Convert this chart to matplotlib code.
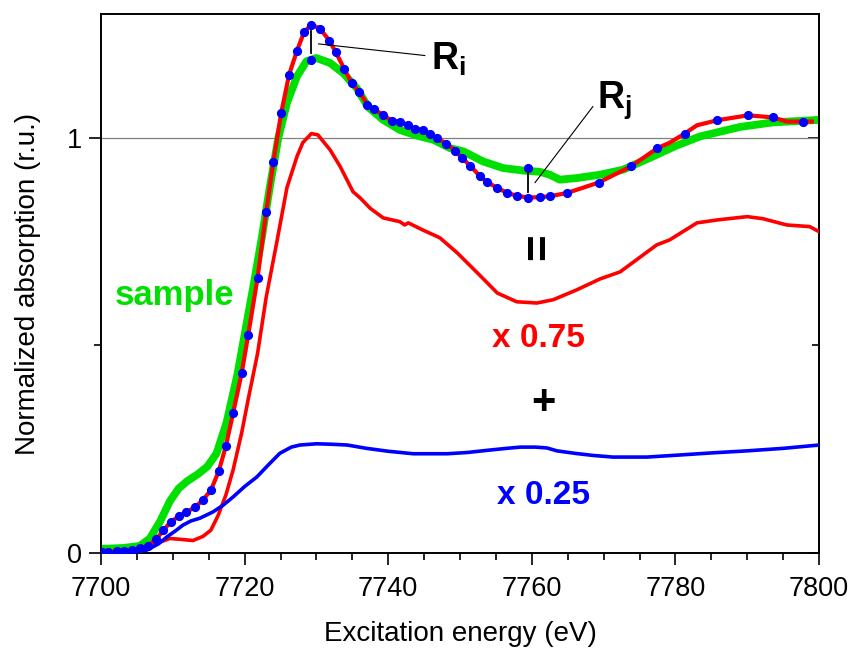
import matplotlib
matplotlib.use("Agg")
import matplotlib.pyplot as plt
from matplotlib.ticker import FixedLocator, MultipleLocator

plt.rcParams['font.family'] = ['Liberation Sans', 'DejaVu Sans']
plt.rcParams['mathtext.fontset'] = 'custom'
plt.rcParams['mathtext.rm'] = 'Liberation Sans'
plt.rcParams['mathtext.bf'] = 'Liberation Sans:bold'

# ---------------- data ----------------
# sample spectrum (green)
sample_e = [7700, 7703, 7705.4, 7706.8, 7708.2, 7709.6, 7710.8, 7712.0, 7713.5, 7714.8,
            7716.1, 7717.5, 7719.0, 7720.2, 7721.2, 7722.4, 7723.5, 7724.7, 7725.9, 7727.3,
            7728.6, 7730.0, 7731.9, 7733.7, 7735.6, 7737.2, 7739.3, 7741.6, 7744.0, 7746.3,
            7748.6, 7750.5, 7753.2, 7756.0, 7758.8, 7761.1, 7762.5, 7763.9, 7766.3, 7769.5,
            7772.7, 7776.5, 7780.0, 7783.4, 7789.0, 7793.6, 7800]
sample_y = [0.010, 0.012, 0.017, 0.035, 0.075, 0.125, 0.155, 0.173, 0.190, 0.208,
            0.240, 0.315, 0.430, 0.545, 0.640, 0.760, 0.880, 1.000, 1.084, 1.148,
            1.184, 1.192, 1.180, 1.156, 1.120, 1.074, 1.043, 1.019, 1.005, 0.995,
            0.975, 0.967, 0.943, 0.927, 0.921, 0.918, 0.911, 0.899, 0.903, 0.911,
            0.923, 0.952, 0.980, 1.003, 1.026, 1.037, 1.043]

# reference component 1, scaled x 0.75 (red)
ref1_e = [7700, 7704, 7706.8, 7708.5, 7709.6, 7711.0, 7712.8, 7714.2, 7715.3, 7716.3,
          7717.4, 7718.4, 7719.6, 7720.5, 7721.8, 7723.0, 7724.5, 7725.9, 7727.3, 7728.1,
          7729.3, 7730.2, 7731.9, 7733.3, 7735.1, 7736.1, 7737.5, 7739.3, 7741.6, 7742.3,
          7742.8, 7744.8, 7747.2, 7749.6, 7752.4, 7755.2, 7757.9, 7760.7, 7763.0, 7766.3,
          7769.5, 7772.3, 7777.4, 7779.2, 7783.0, 7785.8, 7790.0, 7792.2, 7795.5, 7798.7, 7800]
ref1_y = [0.000, 0.003, 0.015, 0.028, 0.035, 0.033, 0.030, 0.040, 0.055, 0.090,
          0.140, 0.200, 0.290, 0.370, 0.480, 0.615, 0.750, 0.880, 0.955, 0.988,
          1.010, 1.007, 0.971, 0.931, 0.870, 0.855, 0.830, 0.807, 0.798, 0.790,
          0.795, 0.778, 0.759, 0.723, 0.675, 0.626, 0.605, 0.602, 0.610, 0.634,
          0.660, 0.677, 0.742, 0.754, 0.795, 0.802, 0.810, 0.805, 0.790, 0.786, 0.774]

# reference component 2, scaled x 0.25 (blue)
ref2_e = [7700, 7704, 7706.4, 7708.0, 7709.2, 7710.5, 7711.4, 7712.5, 7713.8, 7715.6,
          7717.0, 7718.4, 7720.0, 7721.7, 7723.3, 7724.9, 7726.5, 7727.7, 7730.0, 7732.0,
          7734.3, 7737.0, 7740.0, 7743.5, 7748.2, 7751.0, 7754.2, 7756.5, 7758.4, 7760.5,
          7762.1, 7763.5, 7766.0, 7768.5, 7771.3, 7776.0, 7780.6, 7785.0, 7790.0, 7795.0, 7800]
ref2_y = [0.000, 0.002, 0.007, 0.022, 0.039, 0.055, 0.067, 0.077, 0.084, 0.099,
          0.115, 0.135, 0.160, 0.183, 0.212, 0.240, 0.255, 0.260, 0.263, 0.262,
          0.260, 0.252, 0.245, 0.239, 0.239, 0.242, 0.248, 0.252, 0.255, 0.255,
          0.253, 0.246, 0.240, 0.235, 0.231, 0.231, 0.236, 0.241, 0.246, 0.252, 0.260]

# fit (sum) line (red) and its points (blue dots)
fit_e = [7700.0, 7700.1, 7701.0, 7702.2, 7703.2, 7704.3, 7705.5, 7706.5, 7707.7, 7708.7,
         7709.7, 7710.9, 7711.8, 7713.1, 7714.2, 7715.3, 7716.4, 7717.4, 7718.4, 7719.6,
         7720.5, 7721.8, 7723.0, 7724.0, 7725.1, 7726.2, 7727.3, 7728.3, 7729.3, 7730.5,
         7731.8, 7732.7, 7733.9, 7734.9, 7736.0, 7737.1, 7738.0, 7739.3, 7740.5, 7741.6,
         7742.7, 7743.7, 7744.8, 7745.8, 7746.8, 7748.1, 7749.3, 7750.3, 7751.4, 7752.8,
         7753.8, 7755.1, 7756.6, 7758.0, 7759.5, 7761.1, 7762.5, 7764.9, 7769.3, 7773.8,
         7777.5, 7779.2, 7781.3, 7783.0, 7785.8, 7790.1, 7793.6, 7795.5, 7797.8, 7799.0]
fit_y = [0.000, 0.003, 0.003, 0.004, 0.005, 0.007, 0.011, 0.016, 0.033, 0.055,
         0.075, 0.089, 0.098, 0.110, 0.128, 0.151, 0.197, 0.258, 0.337, 0.434,
         0.525, 0.662, 0.821, 0.941, 1.060, 1.152, 1.210, 1.255, 1.272, 1.263,
         1.234, 1.206, 1.165, 1.132, 1.110, 1.080, 1.069, 1.055, 1.041, 1.039,
         1.031, 1.022, 1.019, 1.009, 0.999, 0.986, 0.969, 0.951, 0.933, 0.907,
         0.893, 0.880, 0.867, 0.860, 0.856, 0.857, 0.859, 0.867, 0.892, 0.931,
         0.975, 0.988, 1.010, 1.030, 1.042, 1.054, 1.049, 1.039, 1.039, 1.039]

dot_e = [7700.1, 7701.0, 7702.2, 7703.2, 7704.3, 7705.5, 7706.5, 7707.7, 7708.7,
         7709.7, 7710.9, 7711.8, 7713.1, 7714.2, 7715.3, 7716.4, 7717.4, 7718.4, 7719.6,
         7720.5, 7721.8, 7723.0, 7724.0, 7725.1, 7726.2, 7727.3, 7728.3, 7729.3, 7730.5,
         7731.8, 7732.7, 7733.9, 7734.9, 7736.0, 7737.1, 7738.0, 7739.3, 7740.5, 7741.6,
         7742.7, 7743.7, 7744.8, 7745.8, 7746.8, 7748.1, 7749.3, 7750.3, 7751.4, 7752.8,
         7753.8, 7755.1, 7756.6, 7758.0, 7759.5, 7761.1, 7762.5, 7764.9, 7769.3, 7773.8,
         7777.5, 7781.3, 7785.8, 7790.1, 7793.6, 7797.8]
dot_y = [0.003, 0.003, 0.004, 0.005, 0.007, 0.011, 0.016, 0.033, 0.055,
         0.075, 0.089, 0.098, 0.110, 0.128, 0.151, 0.197, 0.258, 0.337, 0.434,
         0.525, 0.662, 0.821, 0.941, 1.060, 1.152, 1.210, 1.255, 1.272, 1.263,
         1.234, 1.206, 1.165, 1.132, 1.110, 1.080, 1.069, 1.055, 1.041, 1.039,
         1.031, 1.022, 1.019, 1.009, 0.999, 0.986, 0.969, 0.951, 0.933, 0.907,
         0.893, 0.880, 0.867, 0.860, 0.856, 0.857, 0.859, 0.867, 0.892, 0.931,
         0.975, 1.010, 1.042, 1.054, 1.049, 1.039]

# residual markers R_i and R_j: energy, sample value, bar ends
resid_e = [7729.3, 7759.5]
resid_sample = [1.188, 0.928]
resid_bar_lo = [1.204, 0.870]
resid_bar_hi = [1.256, 0.916]

x_ticks = [7700, 7720, 7740, 7760, 7780, 7800]
y_ticks = [0, 1]

GREEN = '#00e000'
RED = '#ff0000'
BLUE = '#0000ff'

# ---------------- figure ----------------
fig = plt.figure(figsize=(8.56, 6.5), dpi=100)
ax = fig.add_axes([101/856, 1 - 553/650, 718/856, 539/650])

ax.axhline(1.0, color='#808080', lw=0.9, zorder=1)

ax.plot(sample_e, sample_y, color=GREEN, lw=5.6, solid_capstyle='round', zorder=2)
ax.plot(ref1_e, ref1_y, color=RED, lw=2.6, zorder=3)
ax.plot(ref2_e, ref2_y, color=BLUE, lw=2.6, zorder=3)
ax.plot(fit_e, fit_y, color=RED, lw=3.0, zorder=4)
ax.plot(dot_e, dot_y, ls='none', marker='o', ms=5.6, color=BLUE, mec=BLUE, zorder=5)

# residual bars
for e, lo, hi in zip(resid_e, resid_bar_lo, resid_bar_hi):
    ax.plot([e, e], [lo, hi], color='black', lw=1.3, zorder=6)
ax.plot(resid_e, resid_sample, ls='none', marker='o', ms=5.6, color=BLUE, zorder=5)

# leader lines
ax.plot([7730.3, 7745.1], [1.226, 1.198], color='black', lw=0.8, zorder=6)
ax.plot([7760.45, 7768.5], [0.892, 1.075], color='black', lw=0.8, zorder=6)

# labels R_i, R_j
ax.text(7745.9, 1.164, r'$\mathbf{R}_{\mathbf{i}}$', fontsize=27, ha='left', va='baseline')
ax.text(7769.1, 1.072, r'$\mathbf{R}_{\mathbf{j}}$', fontsize=27, ha='left', va='baseline')

# other annotations
ax.text(7710.2, 0.598, 'sample', color=GREEN, fontsize=25, fontweight='bold',
        ha='center', va='baseline')
ax.text(7760.9, 0.496, 'x 0.75', color=RED, fontsize=24, fontweight='bold',
        ha='center', va='baseline')
ax.text(7761.6, 0.118, 'x 0.25', color=BLUE, fontsize=24, fontweight='bold',
        ha='center', va='baseline')
ax.text(7761.2, 0.737, '=', color='black', fontsize=33, fontweight='bold',
        ha='center', va='center', rotation=90)
ax.text(7761.6, 0.361, '+', color='black', fontsize=30, fontweight='bold',
        ha='center', va='center')

# axes
ax.set_xlim(7700, 7800)
ax.set_ylim(0, 1.298)
ax.set_xticks(x_ticks)
ax.xaxis.set_minor_locator(MultipleLocator(5))
ax.set_yticks(y_ticks)
ax.yaxis.set_minor_locator(FixedLocator([0.5]))
ax.tick_params(axis='both', which='major', direction='out', length=8.5, width=1.2,
               labelsize=19.5)
ax.tick_params(axis='x', which='major', pad=8)
ax.tick_params(axis='y', which='major', pad=5)
ax.tick_params(axis='both', which='minor', direction='out', length=5, width=1.2)
for s in ax.spines.values():
    s.set_linewidth(1.4)

sec = ax.secondary_yaxis('right')
sec.set_yticks(y_ticks)
sec.yaxis.set_minor_locator(FixedLocator([0.5]))
sec.tick_params(which='major', direction='in', length=8, width=1.2, labelright=False)
sec.tick_params(which='minor', direction='in', length=5, width=1.2)
sec.spines['right'].set_linewidth(1.4)

ax.set_xlabel('Excitation energy (eV)', fontsize=20, labelpad=14)
ax.set_ylabel('Normalized absorption (r.u.)', fontsize=20, labelpad=19)

fig.savefig('out.png', dpi=100)
